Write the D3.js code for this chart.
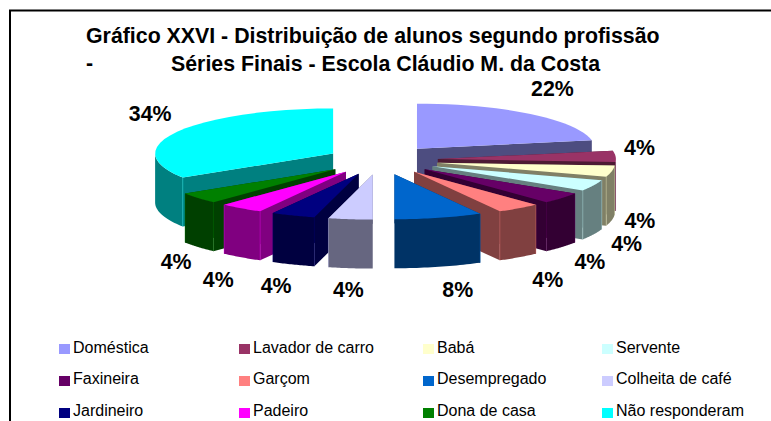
<!DOCTYPE html>
<html><head><meta charset="utf-8">
<script src="https://cdn.jsdelivr.net/npm/d3@7/dist/d3.min.js"></script>
<style>html,body{margin:0;padding:0;background:#fff}svg{display:block}text{font-family:"Liberation Sans",Arial,sans-serif;fill:#000}</style>
</head><body><svg id="c" width="771" height="421"></svg>
<script>
const categories=["Doméstica","Lavador de carro","Babá","Servente","Faxineira","Garçom","Desempregado","Colheita de café","Jardineiro","Padeiro","Dona de casa","Não responderam"];
const values=[22,4,4,4,4,4,8,4,4,4,4,34];
const topColors=["#9999FF","#993366","#FFFFCC","#CCFFFF","#660066","#FF8080","#0066CC","#CCCCFF","#000080","#FF00FF","#008000","#00FFFF"];
const wallColors=["#4D4D80","#4D1A33","#808066","#668080","#330033","#804040","#003366","#666680","#000040","#800080","#004000","#008080"];
const drawOrder=[0,1,2,3,4,5,6,11,10,9,8,7];
const explodeBy=[58,58,58,58,58,58,58,58,58,58,58,53.5];
const labelNudgeX=[22,24,28,33,28,29,19,-2,-17,-23,-22,-23];
const labelNudgeY=[-26,-9,49,58,63,71,71,70,70,71,63,-18];
const titleLines=["Gráfico XXVI - Distribuição de alunos segundo profissão","-","Séries Finais - Escola Cláudio M. da Costa"];

const svg=d3.select("#c");
const cx=380,cy=160,R=178,k=0.253,labelR=236,depth=49;
svg.append("path").attr("d","M771 10.5H10V421").attr("fill","none").attr("stroke","#000").attr("stroke-width",2);

const arcs=d3.pie().sort(null).value(d=>d)(values);
const total=d3.sum(values);
const rimPt=(a,r,ox,oy,dz=0)=>[ox+r*Math.sin(a),oy-r*k*Math.cos(a)+dz];
const line=d3.line();
const g=svg.append("g");
drawOrder.forEach(i=>{
  const s=arcs[i],mid=(s.startAngle+s.endAngle)/2,e=explodeBy[i];
  const ox=cx+e*Math.sin(mid),oy=cy-e*k*Math.cos(mid);
  const rim=(a0,a1,dz)=>d3.range(0,25).map(t=>rimPt(a0+(a1-a0)*t/24,R,ox,oy,dz));
  const sl=g.append("g");
  [s.startAngle,s.endAngle].forEach(a=>{
    const p=rimPt(a,R,ox,oy);
    sl.append("path").attr("d",line([[ox,oy],p,[p[0],p[1]+depth],[ox,oy+depth]])+"Z").attr("fill",wallColors[i]);
  });
  const a0=Math.max(s.startAngle,Math.PI/2),a1=Math.min(s.endAngle,3*Math.PI/2);
  if(a1>a0){
    const u=rim(a0,a1,0),d=rim(a0,a1,depth).reverse();
    sl.append("path").attr("d",line(u.concat(d))+"Z").attr("fill",wallColors[i]);
    [s.startAngle,s.endAngle].forEach(a=>{
      if(a>Math.PI/2&&a<3*Math.PI/2&&Math.abs(a-Math.PI)>1e-6){
        const p=rimPt(a,R,ox,oy);
        sl.append("line").attr("x1",p[0]).attr("x2",p[0]).attr("y1",p[1]).attr("y2",p[1]+depth).attr("stroke",topColors[i]).attr("stroke-opacity",.35);
      }
    });
  }
  sl.append("path").attr("d",line([[ox,oy]].concat(rim(s.startAngle,s.endAngle,0)))+"Z").attr("fill",topColors[i]);
});
arcs.forEach((s,i)=>{
  const mid=(s.startAngle+s.endAngle)/2;
  const p=rimPt(mid,labelR,cx,cy);
  svg.append("text").attr("x",p[0]+labelNudgeX[i]).attr("y",p[1]+labelNudgeY[i]).attr("dy","0.36em")
    .attr("text-anchor","middle").attr("font-weight","bold").attr("font-size",21.33)
    .text(d3.format(".0f")(s.value/total*100)+"%");
});
svg.append("text").attr("x",86).attr("y",43).attr("font-weight","bold").attr("font-size",21.33).text(titleLines[0]);
svg.append("text").attr("x",86).attr("y",70).attr("font-weight","bold").attr("font-size",21.33).text(titleLines[1]);
svg.append("text").attr("x",171).attr("y",71).attr("font-weight","bold").attr("font-size",21.33).text(titleLines[2]);
const legendCols=[59,239,423,602],rows=[353,384,416],swatchTop=[344,376,408];
categories.forEach((c,i)=>{
  const x=legendCols[i%4],r=Math.floor(i/4);
  svg.append("rect").attr("x",x).attr("y",swatchTop[r]).attr("width",11).attr("height",10).attr("fill",topColors[i]);
  svg.append("text").attr("x",x+14).attr("y",rows[r]).attr("font-size",16).text(c);
});
</script></body></html>
